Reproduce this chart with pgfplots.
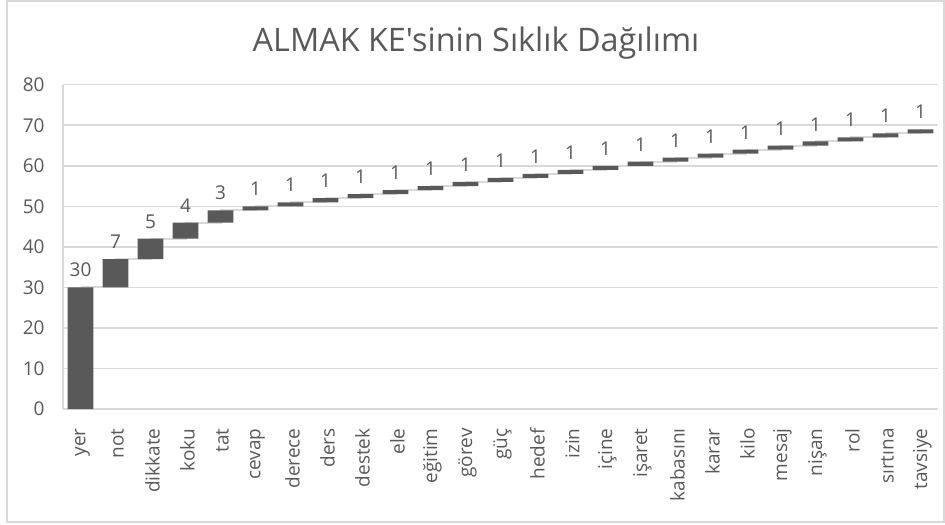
\documentclass[border=0pt]{standalone}
\usepackage{pgfplots}
\pgfplotsset{compat=1.18}
\usepackage{pgfplotstable}
\usepackage{fontspec}
\setmainfont{Open Sans}
\newfontfamily\plainfont{Open Sans}
\definecolor{txt}{RGB}{89,89,89}
\definecolor{grd}{RGB}{217,217,217}
\definecolor{barc}{RGB}{89,89,89}

\pgfplotstableread{
x base v cum
0 0 30 30
1 30 7 37
2 37 5 42
3 42 4 46
4 46 3 49
5 49 1 50
6 50 1 51
7 51 1 52
8 52 1 53
9 53 1 54
10 54 1 55
11 55 1 56
12 56 1 57
13 57 1 58
14 58 1 59
15 59 1 60
16 60 1 61
17 61 1 62
18 62 1 63
19 63 1 64
20 64 1 65
21 65 1 66
22 66 1 67
23 67 1 68
24 68 1 69
}\wf

\pgfplotsset{common/.style={
  at={(31.5pt,57.5pt)}, anchor=south west,
  width=437.5pt, height=162.15pt, scale only axis,
  xmin=-0.5, xmax=24.5, ymin=0, ymax=80,
  /pgf/number format/assume math mode=true,
}}

\begin{document}
\begin{tikzpicture}
\useasboundingbox (0,0) rectangle (472.5pt,262pt);
\draw[grd, line width=0.75pt] (3.5pt,1pt) rectangle (472pt,261.5pt);
\node[anchor=base, font=\plainfont\fontsize{16.2}{19}\selectfont, text=txt, inner sep=0pt] at (238pt,236pt) {ALMAK KE'sinin Sıklık Dağılımı};

\begin{axis}[common,
  axis x line*=bottom, axis y line*=left,
  axis line style={grd, line width=0.75pt, -},
  ymajorgrids, grid style={grd, line width=0.75pt},
  major tick length=0pt,
  ytick={0,10,...,80},
  xtick={0,...,24},
  xticklabels={yer,not,dikkate,koku,tat,cevap,derece,ders,destek,ele,eğitim,görev,güç,hedef,izin,içine,işaret,kabasını,karar,kilo,mesaj,nişan,rol,sırtına,tavsiye},
  tick label style={font=\fontsize{9.5}{11}\selectfont, text=txt, inner sep=0pt},
  xticklabel style={rotate=90, anchor=east, yshift=-1pt},
  xticklabel shift=9.5pt,
  yticklabel shift=9pt,
]
\addplot[grd, line width=1pt, const plot mark left, no marks] table[x=x, y=cum]{\wf};
\end{axis}

\begin{axis}[common, hide axis,
  ybar stacked, bar width=0.74,
]
\addplot[draw=none, fill=none] table[x=x, y=base]{\wf};
\addplot[draw=none, fill=barc] table[x=x, y=v]{\wf};
\end{axis}

\begin{axis}[common, hide axis]
\addplot[draw=none, no marks,
  nodes near coords, point meta=explicit,
  every node near coord/.append style={font=\fontsize{9.5}{11}\selectfont, text=txt, inner sep=0pt, anchor=south, yshift=5pt},
] table[x=x, y=cum, meta=v]{\wf};
\end{axis}
\end{tikzpicture}
\end{document}
